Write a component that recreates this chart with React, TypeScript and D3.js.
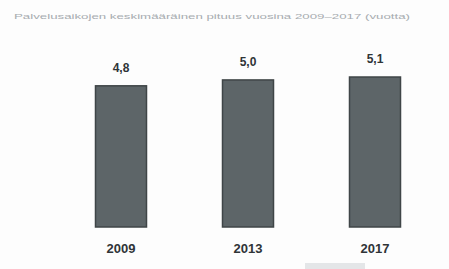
import React from 'react';
import * as d3 from 'd3';

const WIDTH = 449;
const HEIGHT = 269;

// values
const years = ['2009', '2013', '2017'];
const values = [4.8, 5.0, 5.1];
const valueLabels = ['4,8', '5,0', '5,1'];
const title = 'Palvelusaikojen keskimääräinen pituus vuosina 2009–2017 (vuotta)';

const x = d3.scalePoint<string>().domain(years).range([121, 375]);
const y = d3.scaleLinear().domain([0, 5.1]).range([227, 77]);
const BAR_W = 51;

export default function App() {
  return (
    <svg
      xmlns="http://www.w3.org/2000/svg"
      width={WIDTH}
      height={HEIGHT}
      style={{ position: 'absolute', left: 0, top: 0, background: '#fff' }}
      fontFamily="'Liberation Sans', Arial, sans-serif"
    >
      <rect width={WIDTH} height={HEIGHT} fill="#fdfdfd" />
      <text
        x={14}
        y={19}
        fontSize={8}
        fill="#a7acb0"
        textLength={396}
        lengthAdjust="spacingAndGlyphs"
      >
        {title}
      </text>
      {years.map((yr, i) => {
        const cx = x(yr)!;
        return (
          <g key={yr}>
            <rect
              x={cx - BAR_W / 2}
              y={y(values[i])}
              width={BAR_W}
              height={y(0) - y(values[i])}
              fill="#5d6568"
              stroke="#3f4547"
              strokeWidth={1.5}
            />
            <text
              x={cx}
              y={y(values[i]) - 14}
              textAnchor="middle"
              fontSize={12}
              fontWeight="bold"
              fill="#2f3437"
            >
              {valueLabels[i]}
            </text>
            <text
              x={cx}
              y={253}
              textAnchor="middle"
              fontSize={13}
              fontWeight="bold"
              fill="#2f3437"
            >
              {yr}
            </text>
          </g>
        );
      })}
      <rect x={305} y={263} width={60} height={6} fill="#e4e6e8" />
    </svg>
  );
}
